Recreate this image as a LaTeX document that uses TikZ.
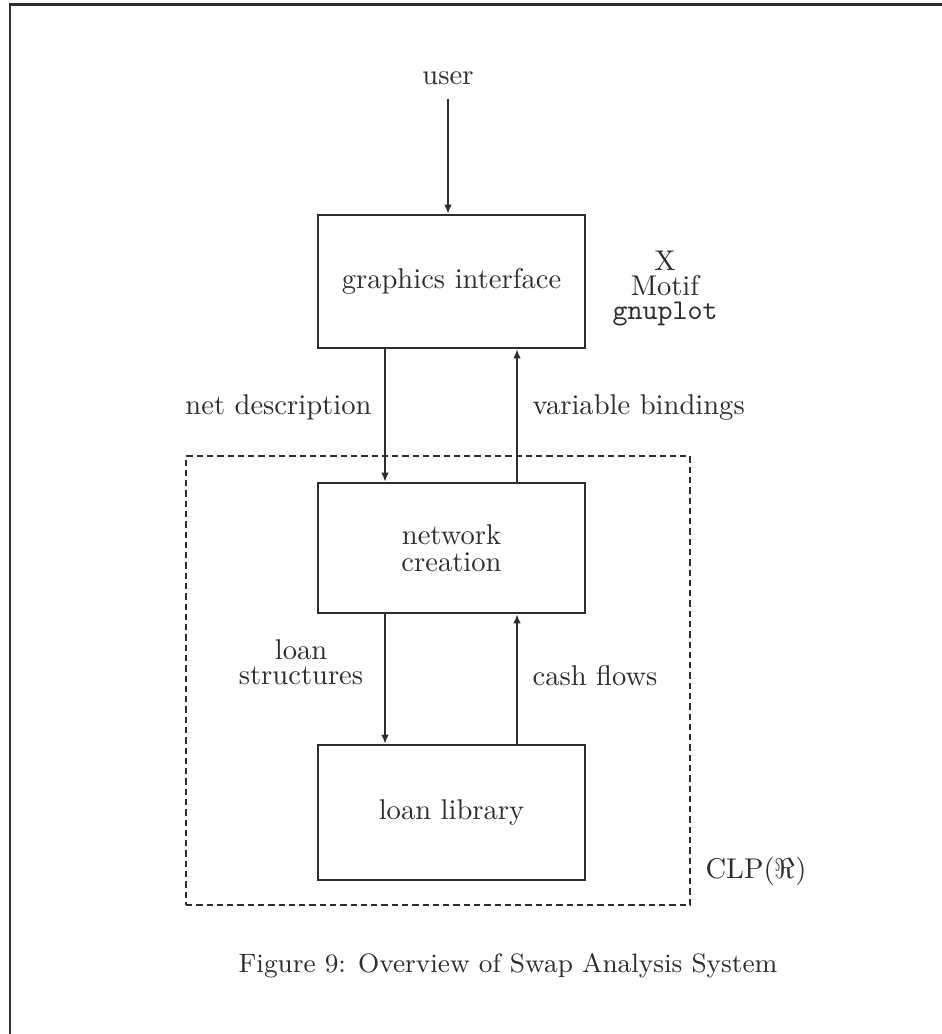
\documentclass[tikz,border=0pt]{standalone}
\usetikzlibrary{arrows.meta}
\definecolor{ink}{RGB}{45,45,45}
\begin{document}
\begin{tikzpicture}[x=0.35pt,y=-0.35pt,
  every node/.style={text=ink, inner sep=0pt},
  block/.style={draw=ink, line width=0.8pt, minimum width=93.45pt, inner sep=0pt, align=center},
  arr/.style={draw=ink, line width=0.6pt, -{Latex[length=3.2pt,width=2.6pt]}},
  region/.style={draw=ink, line width=0.7pt, dash pattern=on 2.2pt off 1.4pt, minimum width=176.4pt, minimum height=157.15pt}
]
\useasboundingbox (0,0) rectangle (942,1034);
% page frame
\draw[ink, line width=0.9pt] (10,1034) -- (10,4.5) -- (942,4.5);
% CLP region
\node[region] (clp) at (438,680.5) {};
% blocks
\node[block, minimum height=46.55pt] (gi) at (451.5,281.5) {graphics interface};
\node[block, minimum height=45.5pt] (nc) at (451.5,548) {network\\[-2.55pt]creation};
\node[block, minimum height=47.25pt] (ll) at (451.5,812.5) {loan library};
% user
\node[anchor=base, inner sep=4.5pt] (user) at (448,85) {user};
\draw[arr] (user.south) -- (user.south |- gi.north);
% connector columns
\coordinate (L) at (385,0);
\coordinate (R) at (517,0);
\draw[arr] (gi.south -| L) -- (nc.north -| L);
\draw[arr] (nc.north -| R) -- (gi.south -| R);
\draw[arr] (nc.south -| L) -- (ll.north -| L);
\draw[arr] (ll.north -| R) -- (nc.south -| R);
% labels
\node[anchor=base east] (ndl) at (372,415) {net description};
\node[anchor=base west] (vbl) at (532,415) {variable bindings};
\node[align=center] (lsl) at (301,662.6) {loan\\[-3.25pt]structures};
\node[anchor=base west] (cfl) at (532,685) {cash flows};
\node[align=center] (tools) at (665,288.8) {X\\[-3.4pt]Motif\\[-3.4pt]\texttt{gnuplot}};
\node[anchor=base west] (clpl) at (705,878) {CLP($\Re$)};
\node[anchor=base, font=\fontsize{9.3}{11}\selectfont] (cap) at (508,972) {Figure 9: Overview of Swap Analysis System};
\end{tikzpicture}
\end{document}
